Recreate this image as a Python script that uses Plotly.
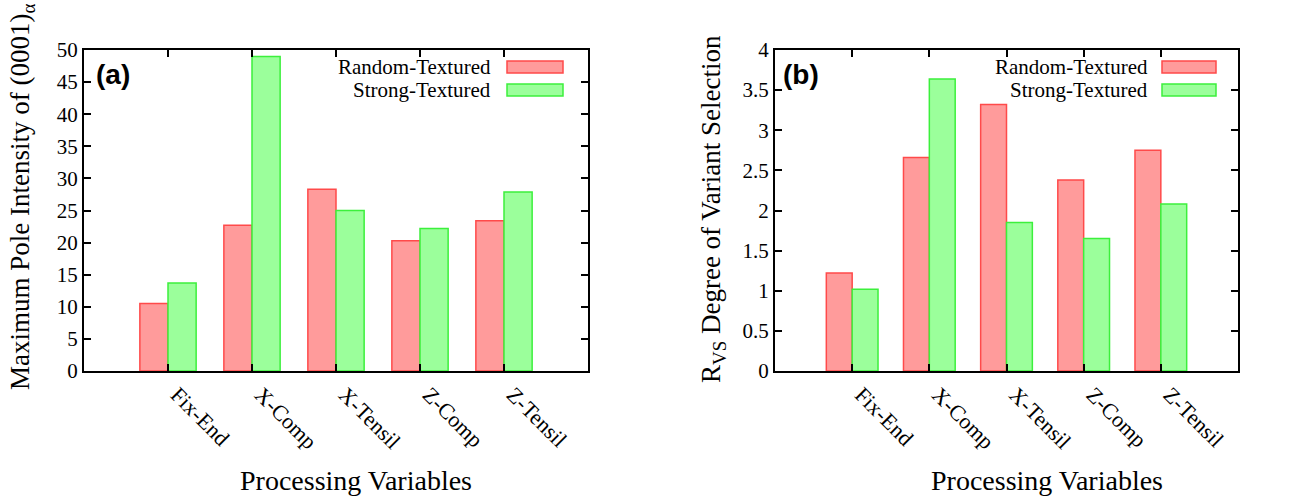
import plotly.graph_objects as go
from plotly.subplots import make_subplots

categories = ["Fix-End", "X-Comp", "X-Tensil", "Z-Comp", "Z-Tensil"]
pole_random = [10.5, 22.7, 28.3, 20.3, 23.4]
pole_strong = [13.7, 49.0, 25.0, 22.2, 27.9]
rvs_random = [1.22, 2.66, 3.32, 2.38, 2.75]
rvs_strong = [1.02, 3.64, 1.85, 1.65, 2.08]
series_names = ["Random-Textured", "Strong-Textured"]

W, H = 1311, 500
def px(x):
    return x / W
def py(y):
    return 1 - y / H

RED_FILL = "#ff9b9b"
RED_LINE = "#ff4a4a"
GRN_FILL = "#9bff9b"
GRN_LINE = "#3cf03c"
SERIF = "Liberation Serif, Times New Roman, serif"
SANS = "Liberation Sans, Arial, sans-serif"

fig = make_subplots(rows=1, cols=2)

for col, (r, g) in enumerate([(pole_random, pole_strong), (rvs_random, rvs_strong)], start=1):
    fig.add_trace(go.Bar(x=categories, y=r, name=series_names[0],
                         marker=dict(color=RED_FILL, line=dict(color=RED_LINE, width=1.5)),
                         showlegend=False), row=1, col=col)
    fig.add_trace(go.Bar(x=categories, y=g, name=series_names[1],
                         marker=dict(color=GRN_FILL, line=dict(color=GRN_LINE, width=1.5)),
                         showlegend=False), row=1, col=col)

axis_common = dict(showline=True, linecolor="black", linewidth=2, mirror="ticks",
                   ticks="inside", ticklen=7, tickwidth=1.5, tickcolor="black",
                   showgrid=False, zeroline=False, automargin=False,
                   tickfont=dict(family=SERIF, size=21, color="black"))

fig.update_xaxes(**axis_common, type="category", range=[-1, 5], tickangle=45)
fig.update_xaxes(tickfont=dict(family=SERIF, size=22, color="black"), ticklabelshift=9)
fig.update_yaxes(**axis_common)

fig.update_layout(
    xaxis=dict(domain=[px(84), px(588)]),
    xaxis2=dict(domain=[px(775), px(1238)]),
    yaxis=dict(domain=[py(371), py(50)], range=[0, 50], dtick=5),
    yaxis2=dict(domain=[py(371), py(50)], range=[0, 4], dtick=0.5),
    barmode="group", bargap=0.33, bargroupgap=0,
    width=W, height=H, margin=dict(l=0, r=0, t=0, b=0),
    plot_bgcolor="white", paper_bgcolor="white",
)

annotations = []
shapes = []

# axis titles
for xc in (356, 1047):
    annotations.append(dict(x=px(xc), y=py(480), xref="paper", yref="paper",
                            xanchor="center", yanchor="middle",
                            text="Processing Variables", showarrow=False,
                            font=dict(family=SERIF, size=28, color="black")))
annotations.append(dict(x=px(22), y=py(197), xref="paper", yref="paper",
                        xanchor="center", yanchor="middle",
                        text="Maximum Pole Intensity of (0001)<sub>α</sub>", textangle=-90,
                        showarrow=False, font=dict(family=SERIF, size=27, color="black")))
annotations.append(dict(x=px(713), y=py(209), xref="paper", yref="paper",
                        xanchor="center", yanchor="middle",
                        text="R<sub>VS</sub> Degree of Variant Selection", textangle=-90,
                        showarrow=False, font=dict(family=SERIF, size=27, color="black")))

# panel labels
annotations.append(dict(x=px(94), y=py(74), xref="paper", yref="paper",
                        xanchor="left", yanchor="middle",
                        text="<b>(a)</b>", showarrow=False,
                        font=dict(family=SANS, size=28, color="black")))
annotations.append(dict(x=px(781), y=py(74), xref="paper", yref="paper",
                        xanchor="left", yanchor="middle",
                        text="<b>(b)</b>", showarrow=False,
                        font=dict(family=SANS, size=28, color="black")))

# custom legends (text left of swatch)
for text_right, sw_l, sw_r in [(493, 507, 563), (1150, 1162, 1216)]:
    for name, yc, fill, line in [(series_names[0], 67, RED_FILL, RED_LINE),
                                 (series_names[1], 90, GRN_FILL, GRN_LINE)]:
        annotations.append(dict(x=px(text_right), y=py(yc), xref="paper", yref="paper",
                                xanchor="right", yanchor="middle", text=name, showarrow=False,
                                font=dict(family=SERIF, size=21, color="black")))
        shapes.append(dict(type="rect", xref="paper", yref="paper",
                           x0=px(sw_l), x1=px(sw_r), y0=py(yc + 6), y1=py(yc - 6),
                           fillcolor=fill, line=dict(color=line, width=1.5)))

fig.update_layout(annotations=annotations, shapes=shapes)
fig.write_html("out.html")
